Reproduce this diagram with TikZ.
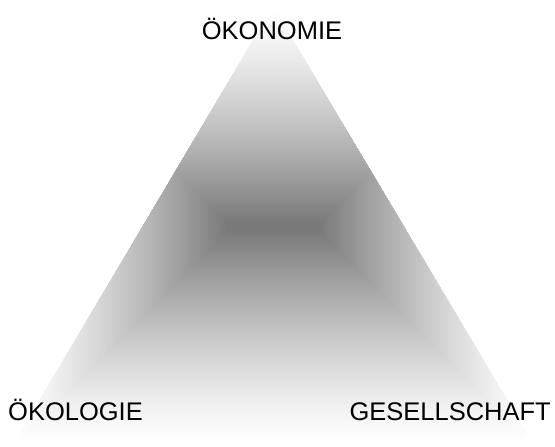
\documentclass[tikz,border=0pt]{standalone}
\usepackage{fontspec}
\setmainfont{Liberation Sans}
\begin{document}
\begin{tikzpicture}[x=1pt,y=-1pt,
  lbl/.style={font=\fontsize{25.5}{30}\selectfont, inner sep=0pt, text=black}]
\useasboundingbox (0,0) rectangle (555,447);
\coordinate (apex) at (273,7);
\coordinate (bl) at (12,447);
\coordinate (br) at (535,447);
\begin{scope}
  \clip (apex) -- (br) -- (bl) -- cycle;
  \foreach \d in {0,2,...,216}{
    \pgfmathsetmacro\c{54*(\d/220)^1.3}
    \fill[black!\c] (12+\d,7+\d) rectangle (535-\d,447-\d);
  }
\end{scope}
\node[lbl, anchor=base] (oek) at (272,39) {ÖKONOMIE};
\node[lbl, anchor=base west] (oko) at (8,420) {ÖKOLOGIE};
\node[lbl, anchor=base east] (ges) at (551,420) {GESELLSCHAFT};
\end{tikzpicture}
\end{document}
